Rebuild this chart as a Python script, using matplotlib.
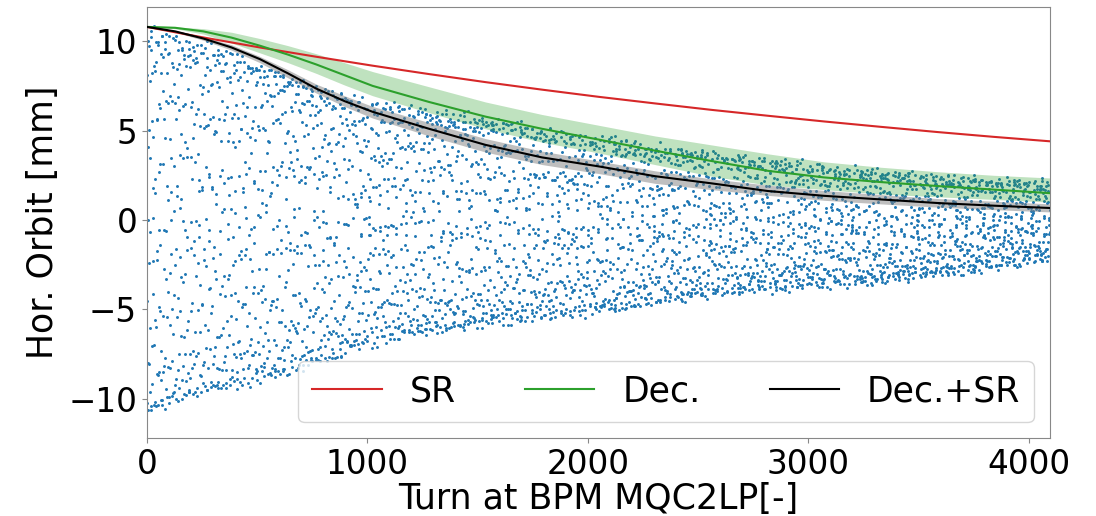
import numpy as np
import matplotlib
matplotlib.use('Agg')
import matplotlib.pyplot as plt

turn_nodes = [0, 128, 256, 384, 512, 640, 768, 896, 1024, 1280, 1536, 1792, 2048,
              2304, 2560, 2816, 3072, 3328, 3584, 3840, 4096]

# model curves [mm]
sr = [10.8, 10.5, 10.21, 9.93, 9.65, 9.39, 9.13, 8.88, 8.63, 8.16, 7.71, 7.29, 6.89,
      6.52, 6.16, 5.83, 5.51, 5.21, 4.92, 4.65, 4.40]
dec = [10.8, 10.75, 10.55, 10.2, 9.75, 9.25, 8.7, 8.1, 7.5, 6.6, 5.78, 5.1, 4.5,
       3.88, 3.3, 2.75, 2.38, 2.12, 1.9, 1.7, 1.5]
dec_hi = [10.8, 10.8, 10.7, 10.5, 10.15, 9.75, 9.3, 8.8, 8.3, 7.45, 6.6, 5.9, 5.3,
          4.7, 4.2, 3.7, 3.25, 2.95, 2.7, 2.5, 2.35]
dec_lo = [10.8, 10.7, 10.4, 9.9, 9.35, 8.8, 8.2, 7.55, 6.95, 6.0, 5.1, 4.35, 3.75,
          3.1, 2.45, 1.95, 1.7, 1.45, 1.3, 1.15, 1.0]
decsr = [10.8, 10.55, 10.15, 9.65, 9.0, 8.2, 7.35, 6.65, 6.05, 5.1, 4.2, 3.5, 3.0,
         2.45, 2.05, 1.62, 1.35, 1.15, 0.95, 0.8, 0.67]
decsr_hi = [10.8, 10.6, 10.25, 9.8, 9.15, 8.4, 7.6, 6.95, 6.35, 5.45, 4.55, 3.85, 3.3,
            2.75, 2.3, 1.95, 1.65, 1.42, 1.2, 1.05, 0.9]
decsr_lo = [10.8, 10.5, 10.05, 9.5, 8.8, 7.95, 7.1, 6.35, 5.7, 4.7, 3.8, 3.1, 2.6,
            2.05, 1.7, 1.38, 1.1, 0.9, 0.72, 0.58, 0.45]

# envelope of the measured turn-by-turn orbit [mm]
bpm_top = [10.6, 10.2, 9.7, 9.2, 8.6, 8.0, 7.4, 6.9, 6.5, 6.0, 5.55, 5.0, 4.55,
           4.05, 3.65, 3.25, 2.9, 2.6, 2.4, 2.2, 2.0]
bpm_bot = [-10.8, -10.2, -9.6, -9.25, -8.9, -8.5, -8.0, -7.4, -6.8, -6.2, -5.7, -5.4, -5.1,
           -4.6, -4.1, -3.8, -3.6, -3.35, -3.05, -2.6, -2.1]
tune = 0.531  # fractional horizontal tune

turns = np.arange(4096)
top = np.interp(turns, turn_nodes, bpm_top)
bot = np.interp(turns, turn_nodes, bpm_bot)
mid = (top + bot) / 2
amp = (top - bot) / 2
# betatron phase with amplitude detuning and a slow synchrotron modulation
phase = 2 * np.pi * np.cumsum(tune + 0.012 * (amp / 10) ** 2)
phase = phase + 0.9 * np.sin(2 * np.pi * 0.0233 * turns) + 0.5 * np.sin(2 * np.pi * 0.00731 * turns)
jitter = 0.25 * np.sin(2 * np.pi * 0.2718 * turns) * np.cos(2 * np.pi * 0.0917 * turns) \
    + 0.15 * np.sin(2 * np.pi * 0.4142 * turns + 1.0)
orbit = mid + amp * np.cos(phase) + jitter

fig = plt.figure(figsize=(10.96, 5.16), dpi=100)
ax = fig.add_axes([0.134, 0.151, 0.824, 0.835])

ax.scatter(turns, orbit, s=4.5, color='tab:blue', linewidths=0, zorder=1)
ax.fill_between(turn_nodes, dec_lo, dec_hi, color='tab:green', alpha=0.3, linewidth=0, zorder=2)
ax.fill_between(turn_nodes, decsr_lo, decsr_hi, color='gray', alpha=0.5, linewidth=0, zorder=2)
ax.plot(turn_nodes, sr, color='tab:red', lw=1.5, label='SR', zorder=3)
ax.plot(turn_nodes, dec, color='tab:green', lw=1.5, label='Dec.', zorder=3)
ax.plot(turn_nodes, decsr, color='black', lw=1.5, label='Dec.+SR', zorder=3)

ax.set_xlim(0, 4096)
ax.set_ylim(-12.2, 11.9)
ax.set_xticks([0, 1000, 2000, 3000, 4000])
ax.set_yticks([-10, -5, 0, 5, 10])
ax.tick_params(labelsize=23.5, color='#888888')
ax.set_xlabel('Turn at BPM MQC2LP[-]', fontsize=25, labelpad=1)
ax.set_ylabel('Hor. Orbit [mm]', fontsize=25, labelpad=6)
for s in ax.spines.values():
    s.set_color('#888888')
ax.legend(loc='lower right', ncol=3, fontsize=25, borderaxespad=0.45)

fig.savefig('out.png', dpi=100)
